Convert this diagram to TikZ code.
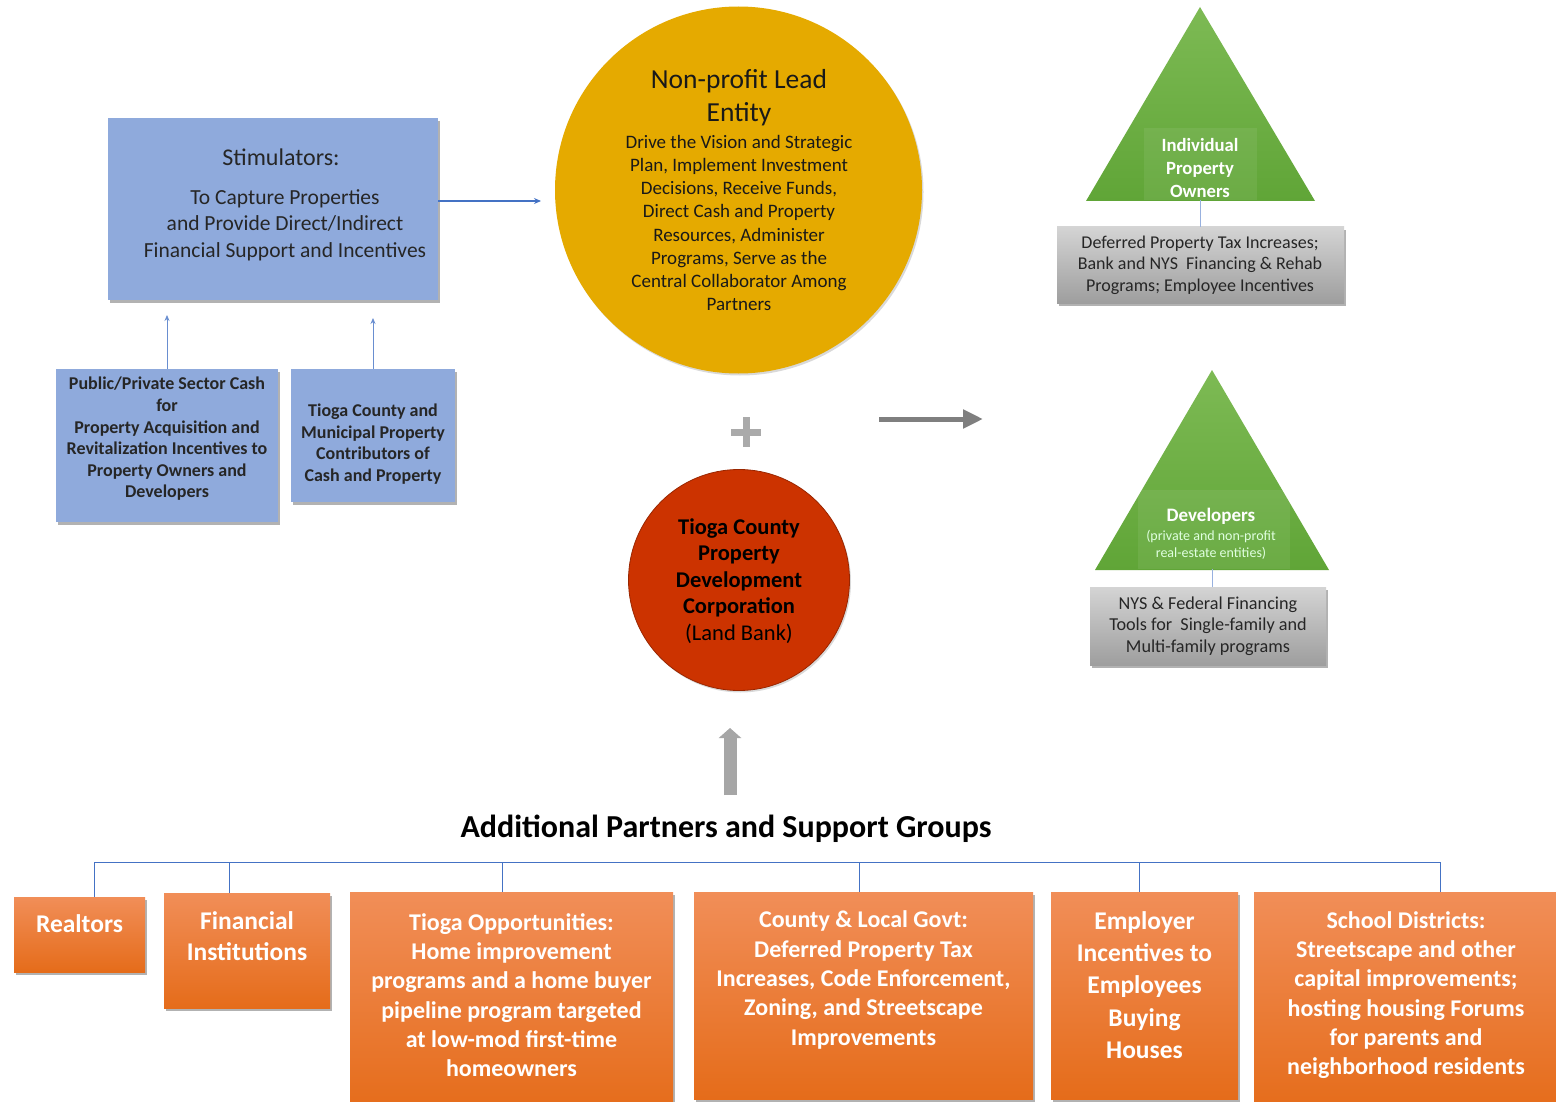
\documentclass[tikz,border=0pt]{standalone}
\usepackage{fontspec}
\setmainfont{Carlito}
\usetikzlibrary{shadows,arrows.meta}
\definecolor{boxblue}{RGB}{143,170,220}
\definecolor{linkblue}{RGB}{68,114,196}
\definecolor{leadgold}{RGB}{229,170,0}
\definecolor{bankred}{RGB}{204,51,0}
\definecolor{grTop}{RGB}{125,186,84}
\definecolor{grBot}{RGB}{96,165,55}
\definecolor{gyTop}{RGB}{212,212,212}
\definecolor{gyBot}{RGB}{158,158,158}
\definecolor{orTop}{RGB}{241,142,88}
\definecolor{orBot}{RGB}{229,108,26}
\definecolor{ink}{RGB}{38,38,38}
\definecolor{arrowgray}{RGB}{127,127,127}
\definecolor{plusgray}{RGB}{170,170,170}
\definecolor{upgray}{RGB}{166,166,166}

\begin{document}
\begin{tikzpicture}[x=1pt,y=-1pt,
  softshadow/.style={drop shadow={shadow xshift=1.5pt,shadow yshift=-3pt,opacity=0.3,fill=black}},
  faintshadow/.style={drop shadow={shadow xshift=1.5pt,shadow yshift=-2pt,opacity=0.15,fill=black}},
  bluebox/.style={rectangle,fill=boxblue,inner sep=0pt,softshadow},
  graybox/.style={rectangle,top color=gyTop,bottom color=gyBot,inner sep=0pt,softshadow},
  orangebox/.style={rectangle,top color=orTop,bottom color=orBot,inner sep=0pt,softshadow},
  linkarrow/.style={draw=linkblue,line width=1.3pt,-{Stealth[length=7pt,width=6pt]}},
  uparrow/.style={draw=linkblue!80,line width=0.8pt,-{Stealth[length=6pt,width=5pt]}},
  busline/.style={draw=linkblue,line width=1pt},
  stemline/.style={draw=linkblue!55,line width=0.8pt},
  boxtext/.style={align=center,inner sep=0pt,text=ink},
  greentext/.style={align=center,inner sep=0pt,text=white},
  orangetext/.style={align=center,inner sep=0pt,text=white,font=\bfseries\fontsize{24}{29.3}\selectfont},
  smallorange/.style={align=center,inner sep=0pt,text=white,font=\bfseries\fontsize{25.5}{30.5}\selectfont},
]
\useasboundingbox (0,0) rectangle (1556,1102);
\fill[white] (0,0) rectangle (1556,1102);

% ---- stimulators and their contributors
\node[bluebox,minimum width=330pt,minimum height=182pt] (stim) at (273,209) {};
\node[boxtext,font=\fontsize{24}{30}\selectfont] (stimtitle) at (281,157) {Stimulators:};
\node[boxtext,font=\fontsize{21.5}{26.5}\selectfont] (stimtext) at (285,225)
  {To Capture Properties\\and Provide Direct/Indirect\\Financial Support and Incentives};

\node[bluebox,minimum width=222pt,minimum height=153pt] (pub) at (167,445.5) {};
\node[boxtext,font=\bfseries\fontsize{18}{21.6}\selectfont] (pubtext) at (167,439)
  {Public/Private Sector Cash\\for\\Property Acquisition and\\Revitalization Incentives to\\Property Owners and\\Developers};

\node[bluebox,minimum width=164pt,minimum height=133pt] (muni) at (373,435.5) {};
\node[boxtext,font=\bfseries\fontsize{18}{21.6}\selectfont] (munitext) at (373,444)
  {Tioga County and\\Municipal Property\\Contributors of\\Cash and Property};

\coordinate (pubtip) at (167,315);
\coordinate (munitip) at (373,318);
\draw[uparrow] (pub.north) -- (pubtip);
\draw[uparrow] (muni.north) -- (munitip);

% ---- lead entity
\node[circle,fill=leadgold,minimum size=367pt,inner sep=0pt,faintshadow] (lead) at (738.5,190) {};
\node[boxtext,text=black!90,font=\fontsize{27.5}{33}\selectfont] (leadtitle) at (739,98)
  {Non-profit Lead\\Entity};
\node[boxtext,text=black!90,font=\fontsize{19}{23.2}\selectfont] (leadbody) at (739,223)
  {Drive the Vision and Strategic\\Plan, Implement Investment\\Decisions, Receive Funds,\\Direct Cash and Property\\Resources, Administer\\Programs, Serve as the\\Central Collaborator Among\\Partners};

\coordinate (leadin) at (541,201);
\draw[linkarrow] ([yshift=8pt]stim.east) -- (leadin);

% ---- plus sign
\draw[plusgray,line width=7pt] (731,432) -- (761,432) (746,417) -- (746,447);

% ---- land bank
\node[circle,fill=bankred,draw=bankred!75!black,line width=0.8pt,minimum size=221pt,inner sep=0pt,faintshadow] (bank) at (739,580) {};
\node[boxtext,text=black,font=\bfseries\fontsize{22.5}{26.5}\selectfont] (banktext) at (739,581)
  {Tioga County\\Property\\Development\\Corporation\\{\mdseries (Land Bank)}};

% ---- flow arrow to the beneficiaries
\coordinate (flowA) at (879,419);
\coordinate (flowB) at (983,419);
\draw[draw=arrowgray,line width=5pt,-{Triangle[length=20pt,width=18pt]}] (flowA) -- (flowB);

% ---- individual property owners
\coordinate (t1apex) at (1200,7);
\coordinate (t1L) at (1086,201);
\coordinate (t1R) at (1315,201);
\coordinate (t1base) at (1200,200);
\shade[top color=grTop,bottom color=grBot] (t1apex) -- (t1R) -- (t1L) -- cycle;
\fill[white,opacity=0.07] (1144,128) rectangle (1257,200);
\node[greentext,font=\bfseries\fontsize{18.7}{23}\selectfont] (ownerstext) at (1200,168)
  {Individual\\Property\\Owners};
\node[graybox,minimum width=287pt,minimum height=76pt] (owners) at (1200.5,265) {};
\node[boxtext,font=\fontsize{18}{21.6}\selectfont] (ownersaid) at (1200,265)
  {Deferred Property Tax Increases;\\Bank and NYS\ \ Financing \& Rehab\\Programs; Employee Incentives};
\draw[stemline] (t1base) -- (t1base |- owners.north);

% ---- developers
\coordinate (t2apex) at (1212,370);
\coordinate (t2L) at (1095,570);
\coordinate (t2R) at (1329,570);
\coordinate (t2base) at (1212,569);
\shade[top color=grTop,bottom color=grBot] (t2apex) -- (t2R) -- (t2L) -- cycle;
\fill[white,opacity=0.07] (1138,490) rectangle (1290,569);
\node[greentext,font=\bfseries\fontsize{19}{22}\selectfont] (devtitle) at (1211,516) {Developers};
\node[greentext,text=white!88!green,font=\fontsize{14}{16.5}\selectfont] (devsub) at (1211,545)
  {(private and non-profit\\real-estate entities)};
\node[graybox,minimum width=236pt,minimum height=78pt] (devs) at (1208,626) {};
\node[boxtext,font=\fontsize{18.2}{21.6}\selectfont] (devsaid) at (1208,626)
  {NYS \& Federal Financing\\Tools for\ \ Single-family and\\Multi-family programs};
\draw[stemline] (t2base) -- (t2base |- devs.north);

% ---- partners feeding the land bank
\coordinate (upA) at (730,795);
\coordinate (upB) at (730,728);
\draw[draw=upgray,line width=13pt,-{Triangle[length=10pt,width=22pt]}] (upA) -- (upB);

\node[inner sep=0pt,font=\bfseries\fontsize{32}{38}\selectfont] (partners) at (726,829)
  {Additional Partners and Support Groups};

\node[orangebox,minimum width=131pt,minimum height=75pt] (realt) at (79.5,934.5) {};
\node[smallorange] (realttext) at (79.5,924) {Realtors};

\node[orangebox,minimum width=166pt,minimum height=115pt] (fin) at (247,950.5) {};
\node[smallorange] (fintext) at (247,936) {Financial\\Institutions};

\node[orangebox,minimum width=323pt,minimum height=220pt] (opp) at (511.5,1002) {};
\node[orangetext] (opptext) at (511.5,995)
  {Tioga Opportunities:\\Home improvement\\programs and a home buyer\\pipeline program targeted\\at low-mod first-time\\homeowners};

\node[orangebox,minimum width=339pt,minimum height=207pt] (govt) at (863.5,995.5) {};
\node[orangetext] (govttext) at (863.5,980)
  {County \& Local Govt:\\Deferred Property Tax\\Increases, Code Enforcement,\\Zoning, and Streetscape\\Improvements};

\node[orangebox,minimum width=187pt,minimum height=207pt] (empl) at (1144.5,995.5) {};
\node[smallorange,font=\bfseries\fontsize{25.5}{32.3}\selectfont] (empltext) at (1144.5,985)
  {Employer\\Incentives to\\Employees\\Buying\\Houses};

\node[orangebox,minimum width=306pt,minimum height=220pt] (school) at (1407,1002) {};
\node[orangetext] (schooltext) at (1406,995)
  {School Districts:\\Streetscape and other\\capital improvements;\\hosting housing Forums\\for parents and\\neighborhood residents};

% ---- connector bus over the partner boxes
\coordinate (b1) at (94,862);
\coordinate (b2) at (229,862);
\coordinate (b3) at (502,862);
\coordinate (b4) at (859,862);
\coordinate (b5) at (1139,862);
\coordinate (b6) at (1440,862);
\draw[busline] (b1) -- (b6);
\draw[busline] (b1) -- (b1 |- realt.north);
\draw[busline] (b2) -- (b2 |- fin.north);
\draw[busline] (b3) -- (b3 |- opp.north);
\draw[busline] (b4) -- (b4 |- govt.north);
\draw[busline] (b5) -- (b5 |- empl.north);
\draw[busline] (b6) -- (b6 |- school.north);
\end{tikzpicture}
\end{document}
